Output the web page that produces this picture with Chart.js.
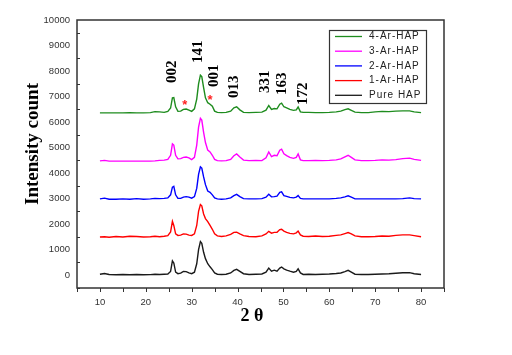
<!DOCTYPE html>
<html><head><meta charset="utf-8">
<script src="https://cdn.jsdelivr.net/npm/chart.js@4.4.1/dist/chart.umd.min.js"></script>
<style>html,body{margin:0;padding:0;background:#fff}canvas{display:block}</style>
</head><body>
<canvas id="c" width="512" height="355"></canvas>
<script>
const twoTheta = [10,11,12,13.5,15,16.5,18,19.5,21,22,23,24,24.8,25.4,25.8,26.1,26.5,27,27.6,28.2,28.8,29.4,30,30.6,31.1,31.5,31.9,32.2,32.6,33,33.5,34,34.5,35,35.6,36.5,37.5,38.5,39.2,39.8,40.5,41.3,42.5,44,45.3,46.2,46.8,47.4,48,48.6,49.2,49.6,50.1,50.7,51.4,52.2,52.8,53.2,53.7,54.3,55.5,57,58.5,60,61.5,62.5,63.4,64.1,64.8,65.6,67,68.5,70,71.5,73,74.5,76,77.5,78.5,80];

const ar4 = [6360,6360,6360,6360,6360,6370,6360,6360,6370,6410,6400,6380,6420,6550,6950,6960,6600,6420,6430,6500,6510,6470,6420,6520,6900,7500,7840,7780,7350,6950,6760,6700,6620,6430,6380,6370,6380,6430,6560,6600,6480,6380,6370,6380,6390,6470,6650,6500,6530,6520,6700,6740,6600,6560,6500,6460,6480,6590,6400,6380,6380,6370,6370,6380,6400,6430,6490,6520,6460,6390,6370,6370,6400,6420,6410,6430,6440,6440,6400,6370];
const ar3 = [4480,4500,4470,4470,4470,4470,4470,4470,4470,4480,4500,4510,4540,4700,5150,5100,4700,4560,4570,4620,4630,4600,4530,4620,5100,5800,6150,6080,5600,5200,4900,4830,4700,4540,4490,4480,4490,4540,4680,4750,4630,4510,4490,4500,4490,4600,4830,4650,4700,4680,4900,4940,4760,4690,4620,4580,4620,4750,4520,4490,4490,4500,4490,4500,4520,4560,4640,4700,4620,4520,4490,4490,4500,4520,4510,4530,4570,4590,4540,4500];
const ar2 = [2990,3020,2980,2980,2990,2980,3000,2980,2990,3010,3000,3010,3030,3150,3450,3480,3150,3010,3010,3060,3080,3060,3020,3080,3400,3950,4250,4200,3850,3550,3300,3250,3150,3030,2990,2980,2990,3030,3120,3170,3080,3000,2990,2990,3000,3060,3170,3070,3080,3100,3250,3270,3120,3090,3050,3030,3060,3120,3010,2990,2990,2990,2990,2990,3010,3030,3070,3110,3060,2990,2990,2990,2990,2990,2990,2990,3000,3030,3000,2990];
const ar1 = [1500,1510,1490,1520,1500,1530,1520,1500,1510,1530,1510,1530,1550,1700,2110,1950,1620,1560,1570,1620,1610,1570,1560,1620,1950,2500,2770,2720,2400,2220,2100,1950,1800,1620,1540,1520,1540,1600,1680,1690,1620,1550,1520,1510,1540,1620,1720,1650,1680,1680,1790,1800,1730,1680,1640,1620,1660,1730,1580,1530,1520,1540,1520,1530,1560,1580,1630,1670,1620,1540,1510,1510,1520,1540,1530,1560,1580,1580,1550,1510];
const pure = [40,70,30,20,30,20,30,20,25,40,30,40,50,150,560,480,120,60,80,150,140,90,60,120,450,1000,1320,1250,900,650,450,330,220,90,40,30,40,90,190,230,150,60,30,40,50,120,280,160,200,160,280,320,250,200,160,120,150,250,90,30,40,30,40,50,70,90,140,190,120,40,30,30,40,50,60,80,100,100,60,30];

const seriesNames = ['4-Ar-HAP','3-Ar-HAP','2-Ar-HAP','1-Ar-HAP','Pure HAP'];
const seriesValues = [ar4, ar3, ar2, ar1, pure];
const seriesColors = ['#1e8c1e','#ff00ff','#0000ff','#ff0000','#1a1a1a'];

const xTicks = [10,20,30,40,50,60,70,80];
const yTicks = [0,1000,2000,3000,4000,5000,6000,7000,8000,9000,10000];

const peakLabels = ['002','141','001','013','331','163','172'];
const peakX = [25.7,31.5,34.9,39.3,46.1,49.7,54.4];
const peakY = [7530,8315,7375,6945,7140,7060,6670];
const starX = [28.5,34.0];
const starY = [6785,6980];

const extras = {
  id:'extras',
  afterDraw(chart){
    const ctx = chart.ctx, a = chart.chartArea, xs = chart.scales.x, ys = chart.scales.y;
    ctx.save();
    // ticks: x outward every 5, y inward at the half-thousands
    ctx.strokeStyle = '#333'; ctx.lineWidth = 1;
    xs.ticks.forEach(t=>{ const p = Math.round(xs.getPixelForValue(t.value))+0.5; ctx.beginPath(); ctx.moveTo(p,a.bottom); ctx.lineTo(p,a.bottom+4); ctx.stroke(); });
    ys.ticks.forEach(t=>{ if (yTicks.includes(t.value)) return; const p = Math.round(ys.getPixelForValue(t.value))+0.5; ctx.beginPath(); ctx.moveTo(a.left,p); ctx.lineTo(a.left+3,p); ctx.stroke(); });
    // frame
    ctx.strokeStyle = '#333'; ctx.lineWidth = 1.5;
    ctx.strokeRect(a.left, a.top, a.right-a.left, a.bottom-a.top);
    // peak labels
    ctx.fillStyle = '#000';
    ctx.font = 'bold 15px "Liberation Serif", serif';
    ctx.textAlign = 'left'; ctx.textBaseline = 'middle';
    peakLabels.forEach((s,i)=>{
      const px = xs.getPixelForValue(peakX[i]), py = ys.getPixelForValue(peakY[i]);
      ctx.save(); ctx.translate(px,py); ctx.rotate(-Math.PI/2); ctx.fillText(s,0,0); ctx.restore();
    });
    // asterisks
    ctx.fillStyle = '#ff2020';
    ctx.font = 'bold 13px "Liberation Sans", sans-serif';
    ctx.textAlign = 'center';
    starX.forEach((v,i)=>{ ctx.fillText('*', xs.getPixelForValue(v), ys.getPixelForValue(starY[i])+3); });
    // axis titles
    ctx.fillStyle = '#000';
    ctx.font = 'bold 19px "Liberation Serif", serif';
    ctx.textAlign = 'center'; ctx.textBaseline = 'middle';
    ctx.save(); ctx.translate(33,144); ctx.rotate(-Math.PI/2); ctx.fillText('Intensity count',0,0); ctx.restore();
    ctx.font = 'bold 18px "Liberation Serif", serif';
    ctx.fillText('2 θ', 252, 316);
    // legend
    const lx = 329, ly = 30, lw = 97, lh = 73;
    ctx.fillStyle = '#fff'; ctx.fillRect(lx,ly,lw,lh);
    ctx.strokeStyle = '#333'; ctx.lineWidth = 1.2; ctx.strokeRect(lx+0.5,ly+0.5,lw,lh);
    ctx.font = '10px "Liberation Sans", sans-serif';
    try { ctx.letterSpacing = '1px'; } catch(e){}
    ctx.textAlign = 'left'; ctx.textBaseline = 'middle';
    chart.data.datasets.forEach((ds,i)=>{
      const y = ly + 6.5 + i*14.7;
      ctx.strokeStyle = ds.borderColor; ctx.lineWidth = 1.3;
      ctx.beginPath(); ctx.moveTo(lx+6,y); ctx.lineTo(lx+33,y); ctx.stroke();
      ctx.fillStyle = '#222'; ctx.fillText(ds.label, lx+40, y);
    });
    ctx.restore();
  }
};

new Chart(document.getElementById('c'), {
  type:'line',
  data:{ datasets: seriesNames.map((n,k)=>({
    label:n,
    data: twoTheta.map((x,i)=>({x:x, y:seriesValues[k][i]})),
    borderColor: seriesColors[k], borderWidth:1.4, pointRadius:0, tension:0, fill:false
  }))},
  options:{
    responsive:false, animation:false, devicePixelRatio:1,
    layout:{ padding:{ top:20, right:68, left:0, bottom:0 } },
    plugins:{ legend:{display:false}, tooltip:{enabled:false} },
    scales:{
      x:{ type:'linear', min:5, max:85,
        grid:{display:false, drawTicks:false}, border:{display:false},
        ticks:{ stepSize:5, autoSkip:false, maxRotation:0, padding:9, color:'#333',
          font:{ size:9.5, family:'"Liberation Sans", sans-serif' },
          callback:v=> xTicks.includes(v) ? String(v) : '' },
        afterFit:s=>{ s.height = 67; } },
      y:{ type:'linear', min:-500, max:10000,
        grid:{display:false, drawTicks:false}, border:{display:false},
        ticks:{ stepSize:500, autoSkip:false, padding:7, color:'#333',
          font:{ size:9.5, family:'"Liberation Sans", sans-serif' },
          callback:v=> yTicks.includes(v) ? String(v) : '' },
        afterFit:s=>{ s.width = 77; } }
    }
  },
  plugins:[extras]
});
</script>
</body></html>
